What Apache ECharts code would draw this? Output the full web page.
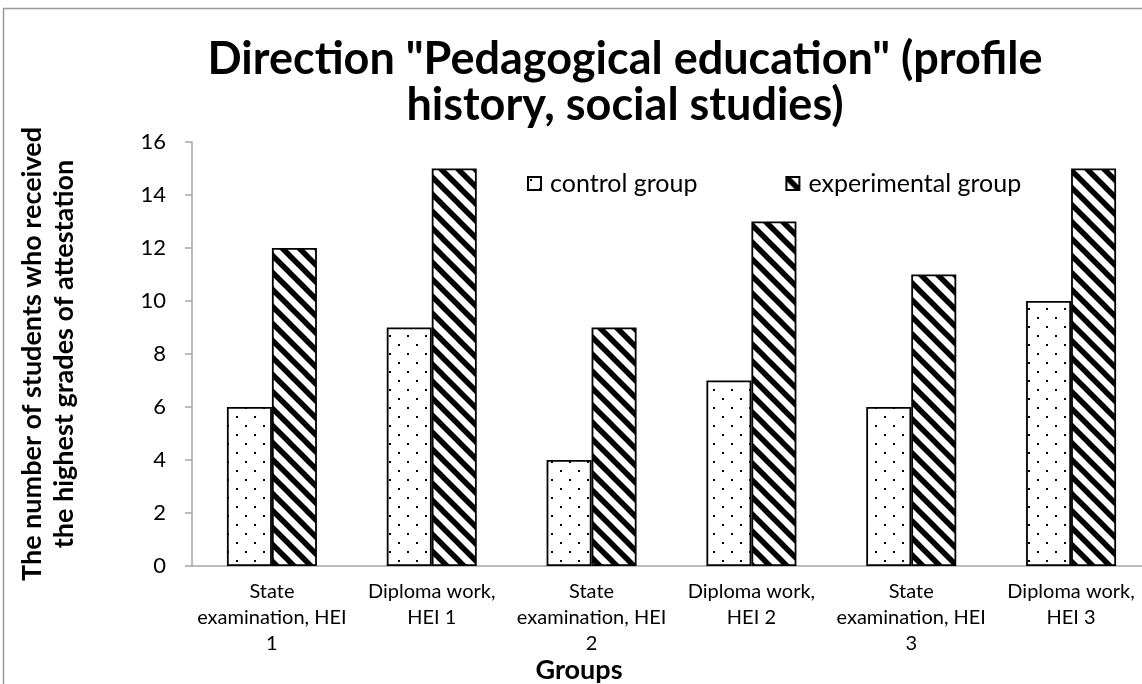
<!DOCTYPE html>
<html>
<head>
<meta charset="utf-8">
<script src="https://cdn.jsdelivr.net/npm/echarts@6/dist/echarts.min.js"></script>
<style>
html,body{margin:0;padding:0;background:#fff;overflow:hidden;}
#chart{width:1160px;height:684px;}
</style>
</head>
<body>
<div id="chart"></div>
<script>
const categories = [
  "State\nexamination, HEI\n1",
  "Diploma work,\nHEI 1",
  "State\nexamination, HEI\n2",
  "Diploma work,\nHEI 2",
  "State\nexamination, HEI\n3",
  "Diploma work,\nHEI 3"
];
const controlGroup = [6, 9, 4, 7, 6, 10];
const experimentalGroup = [12, 15, 9, 13, 11, 15];
const seriesNames = ["control group", "experimental group"];
const titleText = 'Direction "Pedagogical education" (profile\nhistory, social studies)';
const yAxisName = "The number of students who received\nthe highest grades of attestation";
const xAxisName = "Groups";

function dotTile() {
  const c = document.createElement('canvas');
  c.width = 18; c.height = 18;
  const g = c.getContext('2d');
  g.fillStyle = '#fff'; g.fillRect(0, 0, 18, 18);
  g.fillStyle = '#000';
  g.fillRect(2, 2, 2, 2);
  g.fillRect(11, 11, 2, 2);
  return c;
}
function hatchTile() {
  const s = 17;
  const c = document.createElement('canvas');
  c.width = s; c.height = s;
  const g = c.getContext('2d');
  g.fillStyle = '#fff'; g.fillRect(0, 0, s, s);
  g.strokeStyle = '#000'; g.lineWidth = 5.5;
  g.beginPath();
  g.moveTo(-4, -4); g.lineTo(s + 4, s + 4);
  g.moveTo(-4, s - 4); g.lineTo(4, s + 4);
  g.moveTo(s - 4, -4); g.lineTo(s + 4, 4);
  g.stroke();
  return c;
}

const FONT = 'Lato';
const chart = echarts.init(document.getElementById('chart'), null, {renderer: 'canvas'});
chart.setOption({
  animation: false,
  backgroundColor: '#fff',
  textStyle: {fontFamily: FONT, color: '#000'},
  graphic: [{
    type: 'rect', silent: true, z: -1,
    shape: {x: 3.5, y: 8.5, width: 1300, height: 800},
    style: {fill: 'none', stroke: '#9a9a9a', lineWidth: 1.5}
  }],
  title: [{
    text: titleText,
    left: 620, top: 31, textAlign: 'center',
    textStyle: {fontFamily: FONT, fontWeight: 'bold', fontSize: 45, lineHeight: 46, color: '#000'}
  }, {
    text: xAxisName,
    left: 574, top: 652, textAlign: 'center',
    textStyle: {fontFamily: FONT, fontWeight: 'bold', fontSize: 27, color: '#000'}
  }],
  legend: {
    data: seriesNames,
    left: 522, top: 166,
    itemWidth: 13, itemHeight: 13, itemGap: 88,
    icon: 'rect',
    textStyle: {fontFamily: FONT, fontSize: 25, color: '#000', padding: [0, 0, 0, 4]}
  },
  grid: {left: 192, right: 9, top: 142, bottom: 118, containLabel: false},
  xAxis: {
    type: 'category',
    data: categories,
    axisLine: {lineStyle: {color: '#a6a6a6', width: 1.5}},
    axisTick: {show: false},
    axisLabel: {fontFamily: FONT, fontSize: 20, color: '#000', lineHeight: 26, margin: 13, interval: 0}
  },
  yAxis: {
    type: 'value',
    min: 0, max: 16, interval: 2,
    name: yAxisName,
    nameLocation: 'middle',
    nameRotate: 90,
    nameGap: 112,
    nameTextStyle: {fontFamily: FONT, fontWeight: 'bold', fontSize: 27, lineHeight: 32, color: '#000'},
    axisLine: {show: true, lineStyle: {color: '#a6a6a6', width: 1.5}},
    axisTick: {show: true, length: 7, lineStyle: {color: '#a6a6a6', width: 1.5}},
    splitLine: {show: false},
    axisLabel: {fontFamily: FONT, fontSize: 22, color: '#000', margin: 26}
  },
  series: [{
    name: seriesNames[0],
    type: 'bar',
    data: controlGroup,
    barWidth: 45,
    barGap: '0%',
    itemStyle: {color: {image: dotTile(), repeat: 'repeat'}, borderColor: '#000', borderWidth: 1.8}
  }, {
    name: seriesNames[1],
    type: 'bar',
    data: experimentalGroup,
    barWidth: 45,
    itemStyle: {color: {image: hatchTile(), repeat: 'repeat'}, borderColor: '#000', borderWidth: 1.8}
  }]
});
</script>
</body>
</html>
